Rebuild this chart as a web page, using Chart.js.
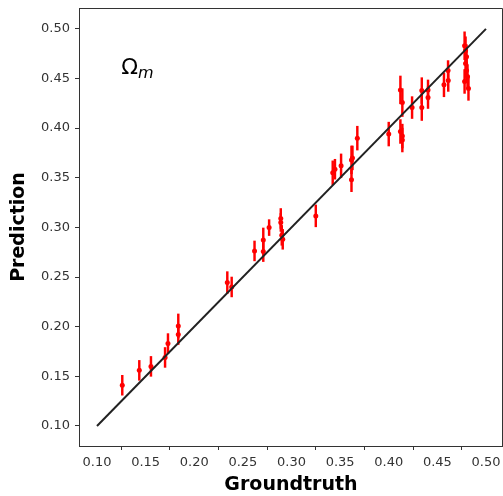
<!DOCTYPE html>
<html>
<head>
<meta charset="utf-8">
<script src="https://cdn.jsdelivr.net/npm/chart.js@4/dist/chart.umd.min.js"></script>
<style>
  html, body { margin: 0; padding: 0; background: #fff; }
  #wrap { width: 503px; height: 496px; }
</style>
</head>
<body>
<div id="wrap"><canvas id="chart"></canvas></div>
<script>
const truth = [0.126, 0.1435, 0.1555, 0.170, 0.173, 0.1836, 0.1836,
  0.234, 0.2385, 0.262, 0.271, 0.271, 0.277, 0.289, 0.289, 0.290, 0.291, 0.325,
  0.3424, 0.3447, 0.351, 0.3617, 0.3617, 0.3627, 0.3677,
  0.400, 0.412, 0.414, 0.412, 0.414, 0.414, 0.424, 0.434, 0.434, 0.4404, 0.4404,
  0.4568, 0.4612, 0.461,
  0.478, 0.479, 0.480, 0.479, 0.480, 0.481, 0.478, 0.482];
const pred = [0.141, 0.156, 0.160, 0.169, 0.183, 0.2008, 0.192,
  0.2444, 0.240, 0.2763, 0.2874, 0.2756, 0.2998, 0.309, 0.305, 0.292, 0.288, 0.3116,
  0.355, 0.3586, 0.362, 0.368, 0.348, 0.370, 0.3899,
  0.394, 0.4385, 0.4257, 0.3966, 0.392, 0.388, 0.4207, 0.4378, 0.4207, 0.4385, 0.4308,
  0.4436, 0.448, 0.458,
  0.483, 0.478, 0.472, 0.465, 0.458, 0.452, 0.447, 0.440];
const predErr = [0.010, 0.010, 0.010, 0.010, 0.010, 0.012, 0.010,
  0.011, 0.010, 0.010, 0.012, 0.010, 0.008, 0.010, 0.009, 0.010, 0.010, 0.011,
  0.012, 0.010, 0.012, 0.014, 0.012, 0.012, 0.012,
  0.012, 0.014, 0.014, 0.012, 0.012, 0.012, 0.011, 0.013, 0.013, 0.010, 0.011,
  0.012, 0.011, 0.010,
  0.014, 0.014, 0.012, 0.012, 0.012, 0.012, 0.012, 0.012];
const diagonal = [0.1, 0.5];
const xTicks = [0.10, 0.15, 0.20, 0.25, 0.30, 0.35, 0.40, 0.45, 0.50];
const yTicks = [0.10, 0.15, 0.20, 0.25, 0.30, 0.35, 0.40, 0.45, 0.50];

const points = truth.map((t, i) => ({ x: t, y: pred[i] }));
const bars = truth.map((t, i) => ({ x: t, y: [pred[i] - predErr[i], pred[i] + predErr[i]] }));

// Omega_m text label (data coords) + top/right frame lines
const labelPlugin = {
  id: "omegaLabel",
  beforeDatasetsDraw(chart) {
    const { ctx, chartArea: a } = chart;
    ctx.save();
    ctx.strokeStyle = "#333";
    ctx.lineWidth = 1;
    ctx.beginPath();
    ctx.moveTo(a.left, a.top + 0.5);
    ctx.lineTo(a.right - 0.5, a.top + 0.5);
    ctx.lineTo(a.right - 0.5, a.bottom);
    ctx.stroke();
    ctx.restore();
  },
  afterDatasetsDraw(chart) {
    const ctx = chart.ctx;
    const x = chart.scales.x.getPixelForValue(0.125);
    const y = chart.scales.y.getPixelForValue(0.455);
    ctx.save();
    ctx.fillStyle = "#000";
    ctx.textBaseline = "alphabetic";
    ctx.font = "22px 'DejaVu Sans'";
    ctx.fillText("Ω", x, y);
    const w = ctx.measureText("Ω").width;
    ctx.font = "italic 16px 'DejaVu Sans'";
    ctx.fillText("m", x + w, y + 4);
    ctx.restore();
  },
};

const tickFont = { family: "'DejaVu Sans'", size: 13 };
const titleFont = { family: "'DejaVu Sans'", size: 19, weight: "bold" };

new Chart(document.getElementById("chart"), {
  data: {
    datasets: [
      {
        type: "line",
        data: diagonal.map((v) => ({ x: v, y: v })),
        borderColor: "#222",
        borderWidth: 2,
        pointRadius: 0,
        order: 0,
      },
      {
        type: "bar",
        data: bars,
        backgroundColor: "#ff0000",
        borderWidth: 0,
        barThickness: 1.8,
        order: 2,
      },
      {
        type: "scatter",
        data: points,
        backgroundColor: "#ff0000",
        borderWidth: 0,
        pointRadius: 2.5,
        order: 1,
      },
    ],
  },
  options: {
    responsive: true,
    maintainAspectRatio: false,
    animation: false,
    layout: { autoPadding: false, padding: { top: 8, right: 0, left: 0, bottom: 0 } },
    scales: {
      x: {
        type: "linear",
        min: 0.0815,
        max: 0.5175,
        offset: false,
        afterBuildTicks: (s) => { s.ticks = xTicks.map((v) => ({ value: v })); },
        afterFit: (s) => { s.height = 50; s.paddingLeft = 0; s.paddingRight = 0; },
        ticks: {
          color: "#333",
          font: tickFont,
          padding: 5,
          maxRotation: 0,
          callback: (v) => v.toFixed(2),
        },
        grid: { drawOnChartArea: false, tickLength: 4, color: "#333" },
        border: { color: "#333", width: 1 },
        title: { display: true, text: "Groundtruth", color: "#000", font: titleFont, padding: { top: 0, bottom: 0 } },
      },
      y: {
        type: "linear",
        min: 0.0798,
        max: 0.521,
        afterBuildTicks: (s) => { s.ticks = yTicks.map((v) => ({ value: v })); },
        afterFit: (s) => { s.width = 79; s.paddingTop = 0; s.paddingBottom = 0; },
        ticks: {
          color: "#333",
          font: tickFont,
          padding: 5,
          callback: (v) => v.toFixed(2),
        },
        grid: { drawOnChartArea: false, tickLength: 4, color: "#333" },
        border: { color: "#333", width: 1 },
        title: { display: true, text: "Prediction", color: "#000", font: titleFont, padding: { top: 8, bottom: 0 } },
      },
    },
    plugins: {
      legend: { display: false },
      tooltip: { enabled: false },
    },
  },
  plugins: [labelPlugin],
});
</script>
</body>
</html>
